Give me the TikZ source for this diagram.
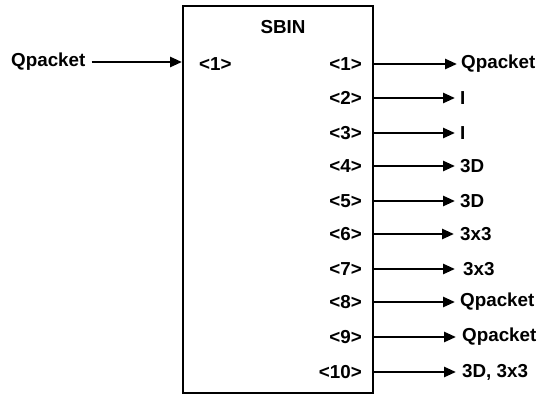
\documentclass[tikz,border=0pt]{standalone}
\usepackage{fontspec}
\setmainfont{Liberation Sans}
\usetikzlibrary{arrows.meta}
\begin{document}
\begin{tikzpicture}[x=1pt,y=-1pt,
  txt/.style={font=\fontsize{18.8}{21}\selectfont\bfseries, inner sep=0pt},
  port/.style={txt, anchor=east},
  sig/.style={txt, anchor=west},
  flow/.style={line width=2.6pt, -{Triangle[length=12pt,width=10pt]}}]
\useasboundingbox (0,0) rectangle (538,394);
% the SBIN block
\node[draw, line width=2.4pt, minimum width=190pt, minimum height=387pt, inner sep=0pt,
      anchor=north west] (box) at (182,5) {};
\node[txt] (title) at (283,27) {SBIN};
% input side
\node[txt, anchor=west] (qin) at (11,62) {Qpacket};
\node[txt, anchor=west] (in1) at (199,64) {<1>};
\draw[flow] (qin.east) ++(6pt,0) coordinate (qs) -- (qs -| box.west);
% output ports with their signals
\foreach \n/\y/\tip/\lab/\sigtext in {1/64/457/461/Qpacket, 2/98/455/460/I, 3/133/455/460/I,
    4/166/455/460/3D, 5/201/455/460/3D, 6/234/454/460/3x3, 7/269/455/463/3x3,
    8/302/455/460/Qpacket, 9/337/456/462/Qpacket, 10/372/456/462/{3D, 3x3}} {
  \node[port] (p\n) at (362,\y) {<\n>};
  \node[sig] (o\n) at (\lab,\y) {\sigtext};
  \coordinate (t\n) at (\tip,\y);
  \draw[flow] (box.east |- p\n) -- (t\n);
}
\end{tikzpicture}
\end{document}
